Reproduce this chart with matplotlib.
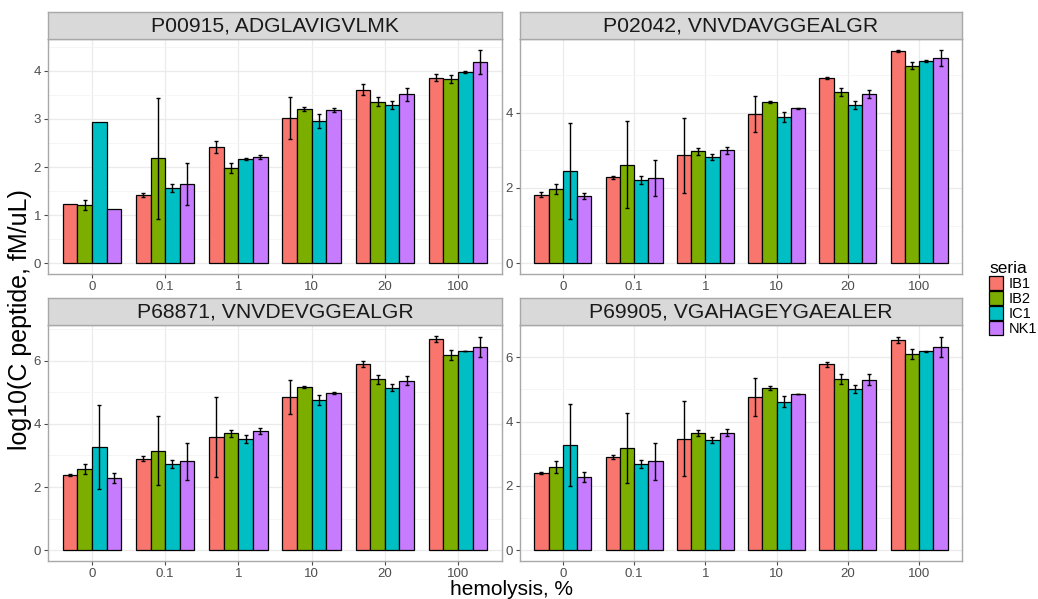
import matplotlib
matplotlib.use('Agg')
import matplotlib.pyplot as plt
import numpy as np
from matplotlib.patches import Patch

plt.rcParams['font.family'] = ['Liberation Sans', 'DejaVu Sans']

hemolysis = ['0', '0.1', '1', '10', '20', '100']
series = ['IB1', 'IB2', 'IC1', 'NK1']
colors = ['#F8766D', '#7CAE00', '#00BFC4', '#C77CFF']
titles = ['P00915, ADGLAVIGVLMK', 'P02042, VNVDAVGGEALGR',
          'P68871, VNVDEVGGEALGR', 'P69905, VGAHAGEYGAEALER']

# mean values, rows = series (IB1, IB2, IC1, NK1), cols = hemolysis
p00915_mean = [[1.24, 1.42, 2.42, 3.02, 3.61, 3.86],
               [1.21, 2.18, 1.98, 3.21, 3.36, 3.83],
               [2.93, 1.56, 2.16, 2.95, 3.29, 3.98],
               [1.12, 1.65, 2.21, 3.18, 3.51, 4.19]]
p00915_err = [[0, 0.05, 0.13, 0.43, 0.12, 0.08],
              [0.10, 1.25, 0.10, 0.045, 0.10, 0.085],
              [0, 0.08, 0.02, 0.145, 0.085, 0.015],
              [0, 0.44, 0.05, 0.04, 0.13, 0.25]]

p02042_mean = [[1.82, 2.28, 2.87, 3.96, 4.92, 5.64],
               [1.98, 2.62, 2.97, 4.28, 4.55, 5.25],
               [2.45, 2.21, 2.83, 3.89, 4.20, 5.37],
               [1.78, 2.26, 3.00, 4.11, 4.49, 5.45]]
p02042_err = [[0.065, 0.03, 1.0, 0.48, 0.025, 0.02],
              [0.135, 1.15, 0.09, 0.035, 0.115, 0.10],
              [1.28, 0.115, 0.075, 0.135, 0.11, 0.02],
              [0.08, 0.475, 0.09, 0.01, 0.115, 0.22]]

p68871_mean = [[2.37, 2.90, 3.58, 4.85, 5.89, 6.69],
               [2.57, 3.15, 3.71, 5.18, 5.41, 6.19],
               [3.27, 2.73, 3.52, 4.76, 5.14, 6.31],
               [2.28, 2.81, 3.77, 4.98, 5.37, 6.43]]
p68871_err = [[0.03, 0.08, 1.27, 0.55, 0.095, 0.10],
              [0.15, 1.10, 0.11, 0.03, 0.14, 0.155],
              [1.32, 0.13, 0.125, 0.16, 0.115, 0.01],
              [0.16, 0.60, 0.09, 0.03, 0.15, 0.32]]

p69905_mean = [[2.40, 2.91, 3.47, 4.76, 5.78, 6.54],
               [2.58, 3.18, 3.64, 5.05, 5.32, 6.09],
               [3.28, 2.69, 3.43, 4.62, 5.02, 6.18],
               [2.27, 2.76, 3.66, 4.86, 5.30, 6.32]]
p69905_err = [[0.04, 0.065, 1.17, 0.58, 0.07, 0.09],
              [0.185, 1.10, 0.10, 0.06, 0.165, 0.155],
              [1.28, 0.12, 0.10, 0.16, 0.125, 0.01],
              [0.155, 0.58, 0.10, 0.01, 0.165, 0.32]]

panels = [(p00915_mean, p00915_err, [0, 1, 2, 3, 4]),
          (p02042_mean, p02042_err, [0, 2, 4]),
          (p68871_mean, p68871_err, [0, 2, 4, 6]),
          (p69905_mean, p69905_err, [0, 2, 4, 6])]

W, H = 1038, 599
# panel boxes in pixels: left, top, right, bottom
boxes = [(48, 39, 502, 274), (520, 39, 962, 274),
         (48, 325, 502, 561), (520, 325, 962, 561)]
strip_h = 27
border = '#A8A8A8'
grid_c = '#EBEBEB'
tick_c = '#4D4D4D'

fig = plt.figure(figsize=(W / 100, H / 100), dpi=100)

x = np.arange(len(hemolysis))
offsets = [-0.3, -0.1, 0.1, 0.3]

for i, (mean, err, yt) in enumerate(panels):
    l, t, r, b = boxes[i]
    ax = fig.add_axes([l / W, 1 - b / H, (r - l) / W, (b - t) / H])
    mean = np.array(mean)
    err = np.array(err)
    for k in range(len(series)):
        ax.bar(x + offsets[k], mean[k], width=0.2, color=colors[k],
               edgecolor='black', linewidth=0.9, zorder=3)
        m = err[k] > 0
        ax.errorbar(x[m] + offsets[k], mean[k][m], yerr=err[k][m], fmt='none',
                    ecolor='black', elinewidth=1.0, capsize=1.2, capthick=1.0,
                    zorder=4)
    top = (mean + err).max()
    ax.set_ylim(-0.05 * top, top * 1.05)
    ax.set_xlim(-0.6, len(hemolysis) - 0.4)
    ax.set_xticks(x)
    ax.set_xticklabels(hemolysis)
    ax.set_yticks(yt)
    ax.set_yticks([v + (yt[1] - yt[0]) / 2 for v in yt], minor=True)
    ax.grid(True, which='major', color=grid_c, linewidth=0.9, zorder=0)
    ax.grid(True, which='minor', axis='y', color='#F4F4F4', linewidth=0.6, zorder=0)
    ax.set_axisbelow(True)
    ax.tick_params(axis='both', which='major', colors=tick_c, labelsize=9.5,
                   length=3, width=0.8, pad=2)
    ax.tick_params(axis='both', which='minor', length=0)
    for s in ax.spines.values():
        s.set_color(border)
        s.set_linewidth(1.0)

    sax = fig.add_axes([l / W, 1 - t / H, (r - l) / W, strip_h / H])
    sax.set_facecolor('#D9D9D9')
    sax.set_xticks([])
    sax.set_yticks([])
    for s in sax.spines.values():
        s.set_color(border)
        s.set_linewidth(1.0)
    sax.text(0.5, 0.47, titles[i], ha='center', va='center', fontsize=15.2,
             color='#1A1A1A', transform=sax.transAxes)

fig.text(511 / W, 1 - 595 / H, 'hemolysis, %', ha='center', va='baseline',
         fontsize=15, color='black')
fig.text(20 / W, 1 - 320 / H, 'log10(C peptide, fM/uL)', ha='center',
         va='center', rotation=90, fontsize=18, color='black')

handles = [Patch(facecolor=c, edgecolor='black', linewidth=0.9) for c in colors]
leg = fig.legend(handles, series, title='seria', loc='upper left',
                 bbox_to_anchor=(989 / W, 1 - 261 / H), frameon=False,
                 fontsize=10.5, title_fontsize=12.5, handlelength=0.95,
                 handleheight=1.1, labelspacing=0.0, handletextpad=0.4,
                 borderpad=0.0, borderaxespad=0.0)
leg._legend_box.align = 'left'

fig.savefig('out.png', dpi=100)
